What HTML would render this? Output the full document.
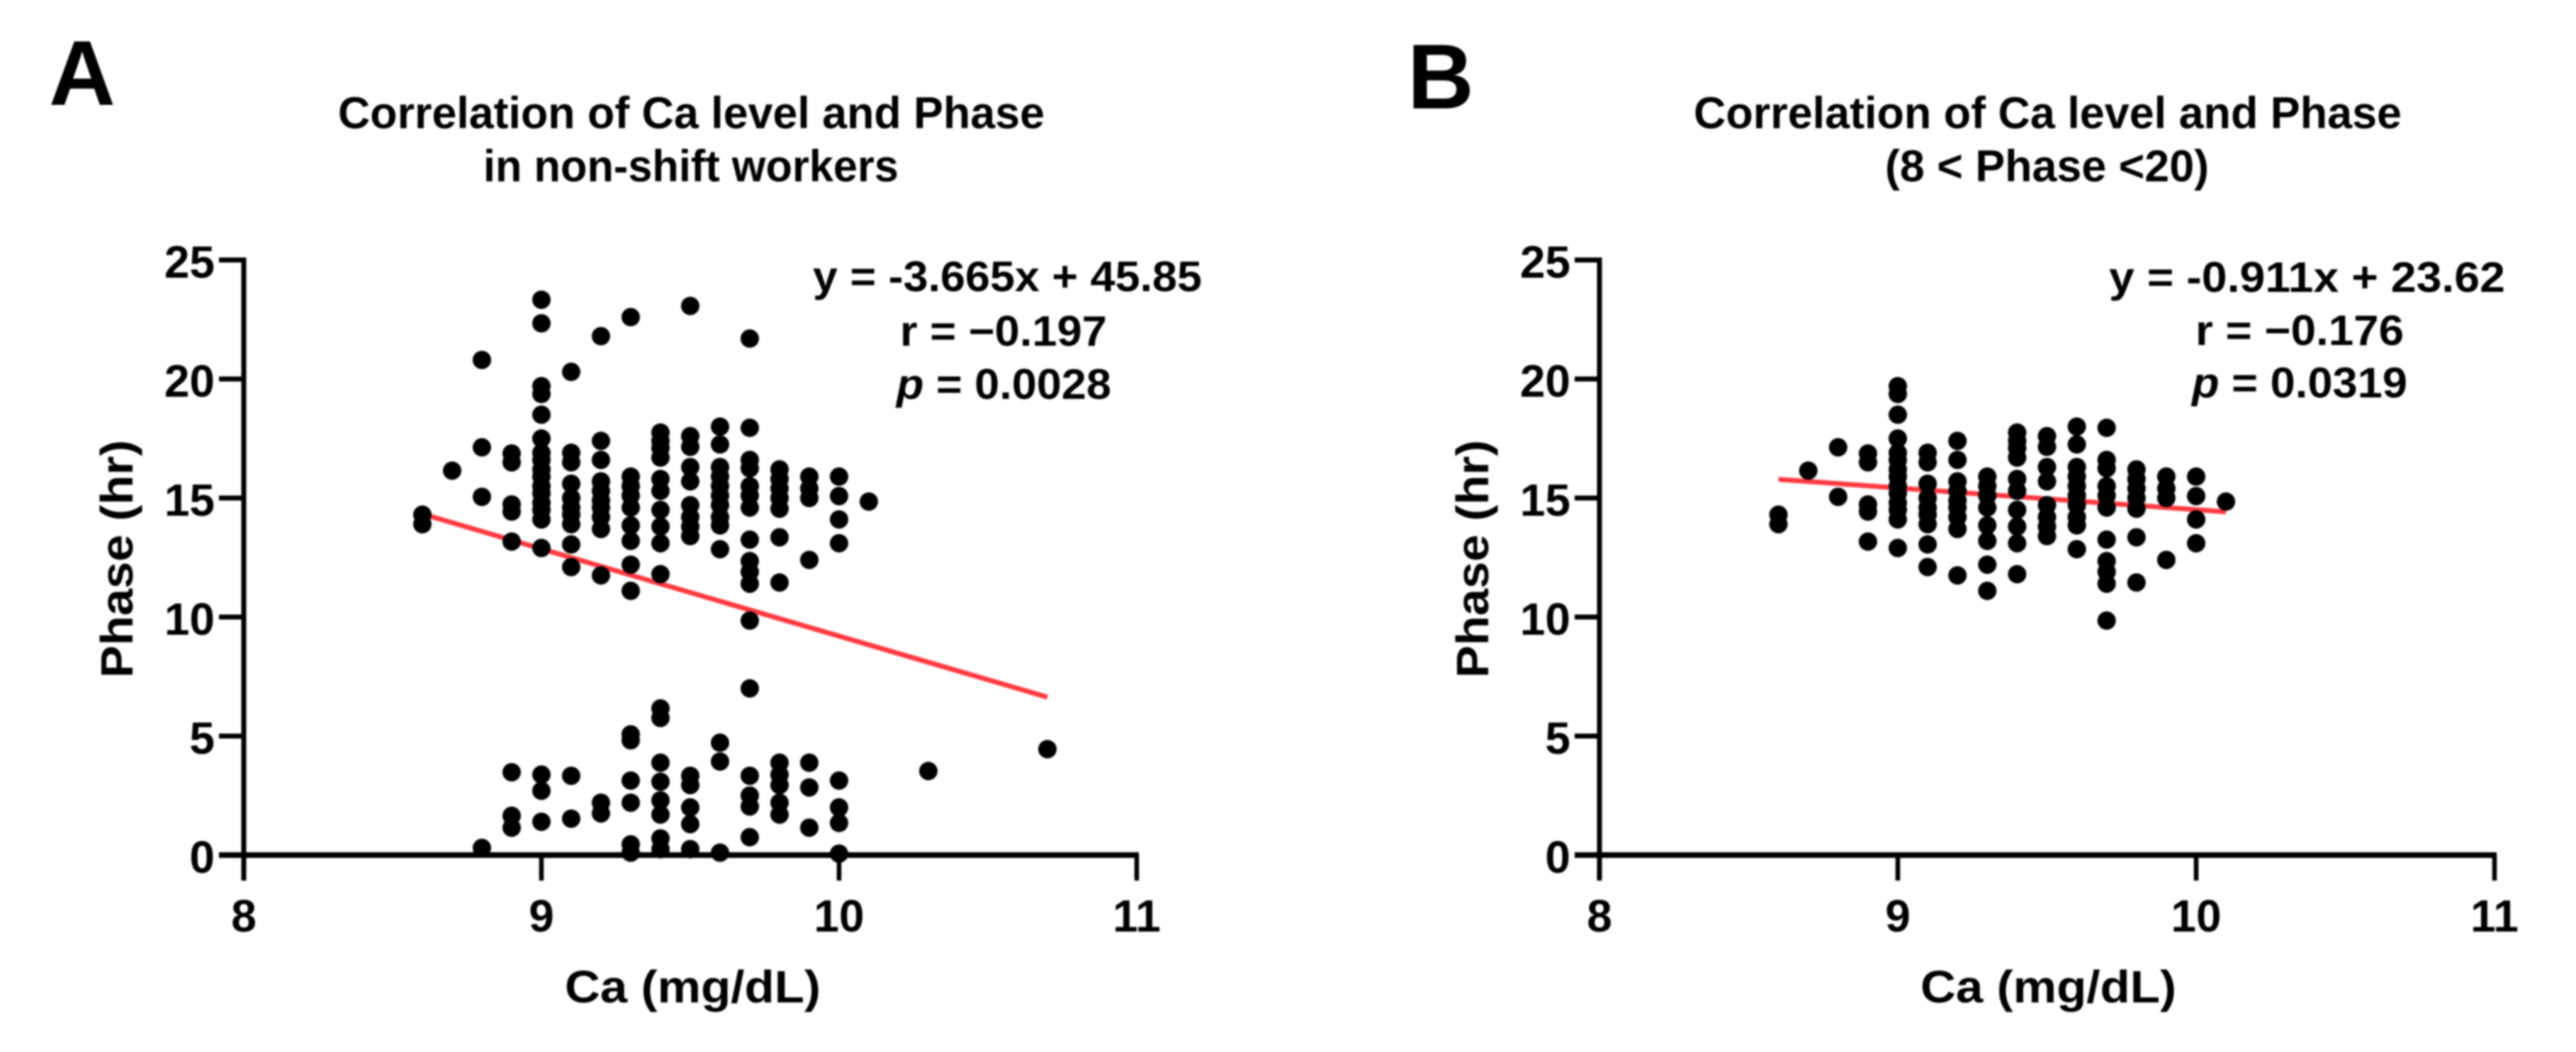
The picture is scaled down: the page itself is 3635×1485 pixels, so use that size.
<!DOCTYPE html>
<html lang="en">
<head>
<meta charset="utf-8">
<title>Correlation of Ca level and Phase</title>
<style>
html,body{margin:0;padding:0;background:#fff;width:3635px;height:1485px;overflow:hidden}
svg{display:block;filter:blur(1.2px)}
text{font-family:"Liberation Sans",sans-serif;font-weight:700;fill:#000}
</style>
</head>
<body>
<svg id="chart" width="3635" height="1485" viewBox="0 0 3635 1485" xmlns="http://www.w3.org/2000/svg">
  <rect width="3635" height="1485" fill="#fff"/>
  <text x="69" y="148" font-size="130">A</text>
  <text x="477" y="181" font-size="63" textLength="997" lengthAdjust="spacingAndGlyphs">Correlation of Ca level and Phase</text>
  <text x="682" y="256" font-size="63" textLength="586" lengthAdjust="spacingAndGlyphs">in non-shift workers</text>
  <text x="1147" y="411" font-size="60" textLength="549" lengthAdjust="spacingAndGlyphs">y = -3.665x + 45.85</text>
  <text x="1270" y="488" font-size="60" textLength="292" lengthAdjust="spacingAndGlyphs">r = −0.197</text>
  <text x="1265" y="563" font-size="60" textLength="303" lengthAdjust="spacingAndGlyphs"><tspan font-style="italic">p</tspan> = 0.0028</text>
  <text x="797" y="1415" font-size="64" textLength="361" lengthAdjust="spacingAndGlyphs">Ca (mg/dL)</text>
  <text transform="translate(187,957) rotate(-90)" font-size="64" textLength="336" lengthAdjust="spacingAndGlyphs">Phase (hr)</text>

  <text x="1986" y="153" font-size="130">B</text>
  <text x="2390" y="181" font-size="63" textLength="999" lengthAdjust="spacingAndGlyphs">Correlation of Ca level and Phase</text>
  <text x="2660" y="256" font-size="63" textLength="457" lengthAdjust="spacingAndGlyphs">(8 &lt; Phase &lt;20)</text>
  <text x="2976" y="412" font-size="60" textLength="559" lengthAdjust="spacingAndGlyphs">y = -0.911x + 23.62</text>
  <text x="3098" y="487" font-size="60" textLength="294" lengthAdjust="spacingAndGlyphs">r = −0.176</text>
  <text x="3093" y="561" font-size="60" textLength="304" lengthAdjust="spacingAndGlyphs"><tspan font-style="italic">p</tspan> = 0.0319</text>
  <text x="2710" y="1415" font-size="64" textLength="361" lengthAdjust="spacingAndGlyphs">Ca (mg/dL)</text>
  <text transform="translate(2100,957) rotate(-90)" font-size="64" textLength="336" lengthAdjust="spacingAndGlyphs">Phase (hr)</text>
</svg>
<script>
const xTicks = [8, 9, 10, 11];
const yTicks = [0, 5, 10, 15, 20, 25];

const caColumnsA = [8.6, 8.7, 8.8, 8.9, 9.0, 9.1, 9.2, 9.3, 9.4, 9.5, 9.6, 9.7, 9.8, 9.9, 10.0, 10.1, 10.3, 10.7];
const phaseByColumnA = [
  [14.3, 13.9],
  [16.15],
  [20.8, 17.13, 15.05, 0.3],
  [16.87, 16.5, 14.73, 14.43, 13.17, 3.48, 1.65, 1.15],
  [23.33, 22.34, 19.7, 19.37, 18.5, 17.5, 16.9, 16.6, 16.2, 15.9, 15.5, 15.2, 14.8, 14.5, 14.1, 12.9, 3.38, 2.7, 1.4],
  [20.3, 16.9, 16.5, 15.6, 15.0, 14.6, 14.3, 13.9, 13.05, 12.1, 3.33, 1.53],
  [21.8, 17.4, 16.6, 15.7, 15.3, 14.9, 14.6, 14.2, 13.7, 11.75, 2.2, 1.75],
  [22.6, 15.9, 15.5, 15.1, 14.6, 13.85, 13.2, 12.2, 11.1, 5.07, 4.82, 3.13, 2.2, 0.45, 0.1],
  [17.75, 17.4, 17.1, 16.7, 15.8, 15.3, 14.5, 13.8, 13.1, 11.8, 6.16, 5.76, 3.88, 3.08, 2.3, 1.7, 0.7, 0.25],
  [23.07, 17.6, 17.15, 16.3, 15.7, 14.7, 14.2, 13.8, 13.4, 3.33, 2.94, 2.0, 1.3, 0.25],
  [18.0, 17.25, 16.3, 15.9, 15.5, 15.1, 14.7, 14.2, 13.85, 12.85, 4.72, 3.93, 0.1],
  [21.7, 17.95, 16.6, 16.25, 15.5, 15.1, 14.6, 13.25, 12.35, 11.9, 11.4, 9.85, 7.0, 3.33, 2.5, 2.04, 0.75],
  [16.2, 15.8, 15.4, 15.0, 14.55, 13.35, 11.45, 3.88, 3.38, 2.94, 2.2, 1.7],
  [15.9, 15.4, 15.0, 12.4, 3.88, 2.84, 1.15],
  [15.9, 15.08, 14.1, 13.1, 3.13, 2.0, 1.35, 0.06],
  [14.85],
  [3.53],
  [4.45]
];
const fitA = { slope: -3.665, intercept: 45.85, from: 8.6, to: 10.7 };

const caColumnsB = [8.6, 8.7, 8.8, 8.9, 9.0, 9.1, 9.2, 9.3, 9.4, 9.5, 9.6, 9.7, 9.8, 9.9, 10.0, 10.1];
const phaseByColumnB = [
  [14.3, 13.9],
  [16.15],
  [17.13, 15.05],
  [16.87, 16.5, 14.73, 14.43, 13.17],
  [19.7, 19.37, 18.5, 17.5, 16.9, 16.6, 16.2, 15.9, 15.5, 15.2, 14.8, 14.5, 14.1, 12.9],
  [16.9, 16.5, 15.6, 15.0, 14.6, 14.3, 13.9, 13.05, 12.1],
  [17.4, 16.6, 15.7, 15.3, 14.9, 14.6, 14.2, 13.7, 11.75],
  [15.9, 15.5, 15.1, 14.6, 13.85, 13.2, 12.2, 11.1],
  [17.75, 17.4, 17.1, 16.7, 15.8, 15.3, 14.5, 13.8, 13.1, 11.8],
  [17.6, 17.15, 16.3, 15.7, 14.7, 14.2, 13.8, 13.4],
  [18.0, 17.25, 16.3, 15.9, 15.5, 15.1, 14.7, 14.2, 13.85, 12.85],
  [17.95, 16.6, 16.25, 15.5, 15.1, 14.6, 13.25, 12.35, 11.9, 11.4, 9.85],
  [16.2, 15.8, 15.4, 15.0, 14.55, 13.35, 11.45],
  [15.9, 15.4, 15.0, 12.4],
  [15.9, 15.08, 14.1, 13.1],
  [14.85]
];
const fitB = { slope: -0.911, intercept: 23.62, from: 8.6, to: 10.1 };

const SVGNS = 'http://www.w3.org/2000/svg';
const chart = document.getElementById('chart');

function makeSvg(tag, attrs) {
  const el = document.createElementNS(SVGNS, tag);
  for (const k in attrs) el.setAttribute(k, attrs[k]);
  chart.appendChild(el);
  return el;
}

function drawPanel(prefix, axisLeft, unitX, columns, phases, fit) {
  const axisBottom = 1207;
  const unitY = 33.6;
  const xScale = function (v) { return axisLeft + (v - xTicks[0]) * unitX; };
  const yScale = function (v) { return axisBottom - (v - yTicks[0]) * unitY; };
  const yTop = yScale(yTicks[yTicks.length - 1]);
  const xRight = xScale(xTicks[xTicks.length - 1]);

  const fitLine = makeSvg('line', {
    x1: xScale(fit.from), y1: yScale(fit.slope * fit.from + fit.intercept),
    x2: xScale(fit.to), y2: yScale(fit.slope * fit.to + fit.intercept),
    stroke: '#ff3a42', 'stroke-width': 7
  });
  
  

  const yAxis = makeSvg('line', { x1: axisLeft, y1: yTop - 3.5, x2: axisLeft, y2: axisBottom + 36, stroke: '#000', 'stroke-width': 7 });
  
  

  const xAxis = makeSvg('line', { x1: axisLeft - 35, y1: axisBottom, x2: xRight + 3, y2: axisBottom, stroke: '#000', 'stroke-width': 8 });
  
  

  yTicks.forEach(function (t) {
    const tick = makeSvg('line', { x1: axisLeft - 35, y1: yScale(t), x2: axisLeft, y2: yScale(t), stroke: '#000', 'stroke-width': 7 });
    
    
    const label = makeSvg('text', { x: axisLeft - 41, y: yScale(t) + 25, 'font-size': 64, 'text-anchor': 'end' });
    label.textContent = String(t);
    
    
  });

  xTicks.forEach(function (t) {
    const tick = makeSvg('line', { x1: xScale(t), y1: axisBottom, x2: xScale(t), y2: axisBottom + 36, stroke: '#000', 'stroke-width': 6.5 });
    
    
    const label = makeSvg('text', { x: xScale(t), y: 1315, 'font-size': 64, 'text-anchor': 'middle' });
    label.textContent = String(t);
    
    
  });

  columns.forEach(function (ca, i) {
    phases[i].forEach(function (phase) {
      const dot = makeSvg('circle', { cx: xScale(ca), cy: yScale(phase), r: 13, fill: '#000' });
      
      
    });
  });
}

drawPanel('panel-a', 344, 420, caColumnsA, phaseByColumnA, fitA);
drawPanel('panel-b', 2257, 421, caColumnsB, phaseByColumnB, fitB);
</script>
</body>
</html>
